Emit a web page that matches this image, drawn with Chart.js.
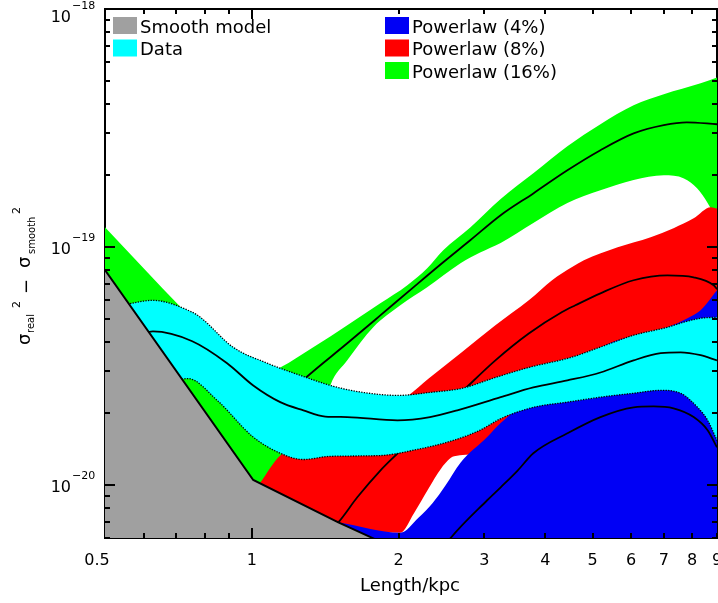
<!DOCTYPE html>
<html>
<head>
<meta charset="utf-8">
<script src="https://cdn.jsdelivr.net/npm/chart.js@4.4.1/dist/chart.umd.min.js"></script>
<style>
  html, body { margin: 0; padding: 0; background: #fff; }
  canvas { display: block; }
</style>
</head>
<body>
<canvas id="sigmaChart" width="718" height="603"></canvas>
<script>
// sigma_real^2 - sigma_smooth^2 against length scale, log-log

// axis ticks
const xTickValues = [0.6, 0.7, 0.8, 0.9, 1, 2, 3, 4, 5, 6, 7, 8, 9];
const xTickLabels = [[0.5, '0.5'], [1, '1'], [2, '2'], [3, '3'], [4, '4'], [5, '5'], [6, '6'], [7, '7'], [8, '8'], [9, '9']];
const yTickDecades = [-21, -20, -19, -18];
const yLabelDecades = [-20, -19, -18];
const legendLabels = ['Smooth model', 'Data', 'Powerlaw (4%)', 'Powerlaw (8%)', 'Powerlaw (16%)'];

// smooth model (top edge of the grey area)
const smoothModel = [[0.5, 8.0e-20], [1.007, 1.05e-20], [1.505, 6.97e-21], [1.775, 5.97e-21], [2.0, 5.3e-21]];

// data band
const dataHi = [[0.5, 5.4e-20], [0.568, 5.8e-20], [0.627, 5.97e-20], [0.748, 5.37e-20], [0.784, 5.07e-20], [0.916, 3.79e-20],
  [1.076, 3.25e-20], [1.257, 2.89e-20], [1.47, 2.6e-20], [1.69, 2.45e-20], [2.0, 2.38e-20], [2.32, 2.45e-20], [2.7, 2.55e-20],
  [3.16, 2.83e-20], [3.7, 3.12e-20], [4.5, 3.43e-20], [5.19, 3.8e-20], [6.07, 4.26e-20], [7.12, 4.6e-20], [7.69, 4.83e-20],
  [8.33, 5.02e-20], [9.0, 5.07e-20]];
const dataMid = [[0.58, 4.2e-20], [0.627, 4.42e-20], [0.755, 4.02e-20], [0.89, 3.25e-20], [1.007, 2.62e-20], [1.144, 2.23e-20],
  [1.276, 2.06e-20], [1.415, 1.94e-20], [1.57, 1.93e-20], [1.99, 1.87e-20], [2.32, 1.93e-20], [2.64, 2.06e-20], [3.24, 2.34e-20],
  [3.78, 2.57e-20], [4.44, 2.75e-20], [5.19, 2.97e-20], [6.07, 3.34e-20], [6.9, 3.58e-20], [7.58, 3.61e-20], [8.33, 3.51e-20],
  [9.0, 3.34e-20]];
const dataLo = [[0.5, 1.75e-20], [0.66, 2.6e-20], [0.74, 2.8e-20], [0.849, 2.27e-20], [1.007, 1.59e-20], [1.144, 1.36e-20],
  [1.276, 1.28e-20], [1.449, 1.32e-20], [1.835, 1.33e-20], [2.145, 1.40e-20], [2.59, 1.54e-20], [2.94, 1.7e-20], [3.24, 1.9e-20],
  [3.78, 2.12e-20], [4.44, 2.23e-20], [5.19, 2.34e-20], [6.07, 2.43e-20], [6.9, 2.5e-20], [7.58, 2.43e-20], [8.21, 2.12e-20],
  [8.61, 1.87e-20], [9.0, 1.54e-20]];

// powerlaw 4%
const pl4Hi = [[1.505, 6.97e-21], [2.017, 6.3e-21], [2.2, 7.3e-21], [2.35, 8.4e-21], [2.5, 1.0e-20], [2.68, 1.24e-20],
  [3.04, 1.59e-20], [3.24, 1.82e-20], [4.0, 2.6e-20], [4.95, 3.58e-20], [5.63, 4.06e-20], [6.28, 4.26e-20], [7.12, 4.6e-20],
  [7.83, 5.02e-20], [8.33, 5.42e-20], [9.0, 6.58e-20]];
const pl4Mid = [[2.45, 5.3e-21], [2.555, 5.97e-21], [3.04, 8.63e-21], [3.24, 9.78e-21], [3.51, 1.15e-20], [3.78, 1.36e-20],
  [4.44, 1.65e-20], [5.19, 1.93e-20], [6.07, 2.12e-20], [6.67, 2.14e-20], [7.33, 2.10e-20], [8.06, 1.93e-20], [8.61, 1.70e-20],
  [9.0, 1.44e-20]];

// powerlaw 8%
const pl8Hi = [[1.04, 1.02e-20], [1.144, 1.33e-20], [1.6, 1.85e-20], [2.095, 2.38e-20], [2.306, 2.8e-20], [2.7, 3.62e-20],
  [3.16, 4.69e-20], [3.7, 5.97e-20], [4.13, 7.25e-20], [4.54, 8.24e-20], [4.8, 8.79e-20], [5.63, 9.97e-20], [6.58, 1.10e-19],
  [7.33, 1.20e-19], [8.06, 1.32e-19], [8.74, 1.47e-19], [9.0, 1.45e-19]];
const pl8Mid = [[1.45, 6.5e-21], [1.505, 6.97e-21], [1.646, 8.88e-21], [1.835, 1.15e-20], [1.97, 1.33e-20], [2.74, 2.54e-20],
  [3.16, 3.34e-20], [3.7, 4.33e-20], [4.33, 5.33e-20], [4.61, 5.69e-20], [5.19, 6.39e-20], [6.07, 7.25e-20],
  [7.12, 7.6e-20], [8.06, 7.46e-20], [8.86, 6.91e-20], [9.0, 6.65e-20]];
const pl8Lo = [[1.04, 9.0e-21], [1.505, 6.8e-21], [2.017, 6.3e-21], [2.15, 7.6e-21], [2.3, 9.6e-21], [2.45, 1.18e-20],
  [2.6, 1.32e-20], [2.9, 1.35e-20], [3.5, 1.6e-20], [5.0, 2.2e-20], [9.0, 3.2e-20]];

// powerlaw 16%
const pl16Hi = [[0.5, 1.21e-19], [0.72, 5.5e-20], [0.9, 3.5e-20], [1.04, 2.9e-20], [1.144, 3.12e-20], [1.337, 3.79e-20],
  [1.57, 4.69e-20], [1.835, 5.8e-20], [2.085, 6.91e-20], [2.29, 8.14e-20], [2.47, 9.68e-20], [2.81, 1.21e-19], [3.24, 1.59e-19],
  [3.78, 2.04e-19], [4.44, 2.65e-19], [5.19, 3.28e-19], [6.07, 3.94e-19], [7.0, 4.38e-19], [8.33, 4.87e-19], [9.0, 5.16e-19]];
const pl16Mid = [[1.2, 2.45e-20], [1.287, 2.81e-20], [1.57, 3.94e-20], [1.835, 5.16e-20], [2.145, 6.77e-20], [2.47, 8.63e-20],
  [2.81, 1.07e-19], [3.24, 1.36e-19], [3.78, 1.68e-19], [4.44, 2.1e-19], [5.19, 2.55e-19], [6.07, 3.0e-19], [7.0, 3.25e-19],
  [7.8, 3.34e-19], [9.0, 3.28e-19]];
const pl16Lo = [[0.5, 2.0e-20], [1.0, 8.0e-21], [1.25, 8.5e-21], [1.449, 2.62e-20], [1.57, 3.34e-20], [1.775, 4.6e-20],
  [2.017, 5.69e-20], [2.29, 6.77e-20], [2.68, 8.54e-20], [2.94, 9.48e-20], [3.24, 1.04e-19], [3.78, 1.26e-19], [4.44, 1.53e-19],
  [5.19, 1.73e-19], [6.07, 1.91e-19], [7.0, 2.0e-19], [7.7, 1.94e-19], [8.2, 1.76e-19], [8.61, 1.53e-19], [9.0, 1.29e-19]];

const X_MIN = 0.5, X_MAX = 9, Y_MIN = 5.99e-21, Y_MAX = 1e-18;

const GRAY = 'rgb(160,160,160)';
const CYAN = 'rgb(0,255,255)';
const BLUE = 'rgb(0,0,245)';
const RED = 'rgb(255,0,0)';
const GREEN = 'rgb(0,255,0)';
const FONT = '"DejaVu Sans", "Liberation Sans", sans-serif';

function edge(points, extra) {
  return Object.assign({
    data: points.map(([x, y]) => ({x, y})),
    borderColor: 'rgba(0,0,0,0)',
    backgroundColor: 'rgba(0,0,0,0)',
    borderWidth: 0,
    pointRadius: 0,
    fill: false,
    cubicInterpolationMode: 'monotone'
  }, extra);
}
const midLine = {borderColor: '#000', borderWidth: 1.8};
const dotted = {borderColor: '#000', borderWidth: 1.3, borderDash: [1.3, 1.3]};

function setFont(ctx, size) {
  ctx.font = size + 'px ' + FONT;
}

// inward tick marks, tick labels, titles, legend
const axesPlugin = {
  id: 'idlAxes',
  afterDraw(chart) {
    const ctx = chart.ctx;
    const xs = chart.scales.x, ys = chart.scales.y;
    const {left, right, top, bottom} = chart.chartArea;
    ctx.save();
    ctx.fillStyle = '#000';

    xTickValues.forEach(v => {
      const px = Math.round(xs.getPixelForValue(v));
      const len = v === 1 ? 10 : 5;
      ctx.fillRect(px - 1, bottom - len, 2, len);
      ctx.fillRect(px - 1, top, 2, len);
    });
    yTickDecades.forEach(d => {
      for (let m = 1; m <= 9; m++) {
        const v = m * Math.pow(10, d);
        if (v < Y_MIN * 0.999 || v > Y_MAX * 1.001) continue;
        const py = Math.round(ys.getPixelForValue(v));
        const len = m === 1 ? 10 : 5;
        ctx.fillRect(left, py - 1, len, 2);
        ctx.fillRect(right - len, py - 1, len, 2);
      }
    });

    // x tick labels
    setFont(ctx, 16);
    ctx.textAlign = 'center';
    ctx.textBaseline = 'alphabetic';
    xTickLabels.forEach(([v, t]) => {
      let px = xs.getPixelForValue(v);
      if (v === X_MIN) px -= 8;
      ctx.fillText(t, px, 565);
    });

    // y tick labels with superscript exponent
    yLabelDecades.forEach(d => {
      let py = ys.getPixelForValue(Math.pow(10, d));
      if (d === -18) py += 6.5;
      setFont(ctx, 16);
      ctx.textAlign = 'right';
      ctx.fillText('10', 71, py + 6.5);
      setFont(ctx, 11);
      ctx.textAlign = 'left';
      ctx.fillText('\u2212' + Math.abs(d), 72, py - 6.5);
    });

    // x title
    setFont(ctx, 18);
    ctx.textAlign = 'center';
    ctx.fillText('Length/kpc', 410, 591);

    // y title, rotated
    const pieces = [
      ['\u03c3', 18, 30, 345], ['real', 10, 34, 333], ['2', 11, 20, 308],
      ['\u2212', 18, 32, 294],
      ['\u03c3', 18, 30, 268], ['smooth', 10, 35, 254], ['2', 11, 20, 214]
    ];
    ctx.textAlign = 'left';
    pieces.forEach(([t, size, bx, sy]) => {
      ctx.save();
      ctx.translate(bx, sy);
      ctx.rotate(-Math.PI / 2);
      setFont(ctx, size);
      ctx.fillText(t, 0, 0);
      ctx.restore();
    });

    // legend
    const swatches = [GRAY, CYAN, BLUE, RED, GREEN];
    const slots = [[113, 17], [113, 39.5], [385, 17], [385, 39.5], [385, 62]];
    setFont(ctx, 18);
    ctx.textAlign = 'left';
    legendLabels.forEach((label, i) => {
      const [lx, ly] = slots[i];
      ctx.fillStyle = swatches[i];
      ctx.fillRect(lx, ly, 24, 17);
      ctx.fillStyle = '#000';
      ctx.fillText(label, lx + 27, ly + 15.5);
    });
    ctx.restore();
  }
};

// four bare axes: only their border lines are shown, making the box
const baseScale = {type: 'logarithmic', bounds: 'data', ticks: {display: false},
  grid: {display: false, drawTicks: false}, border: {display: true, color: '#000', width: 2}};

new Chart(document.getElementById('sigmaChart'), {
  type: 'line',
  data: {
    datasets: [
      edge(pl16Lo, {order: 11}),
      edge(pl16Hi, {order: 10, fill: '-1', backgroundColor: GREEN}),
      edge(pl16Mid, Object.assign({order: 9}, midLine)),
      edge(pl8Lo, {order: 8}),
      edge(pl8Hi, {order: 7, fill: '-1', backgroundColor: RED}),
      edge(pl8Mid, Object.assign({order: 6}, midLine)),
      edge(pl4Hi, {order: 5, fill: 'start', backgroundColor: BLUE}),
      edge(pl4Mid, Object.assign({order: 4}, midLine)),
      edge(dataLo, Object.assign({order: 2}, dotted)),
      edge(dataHi, Object.assign({order: 3, fill: '-1', backgroundColor: CYAN}, dotted)),
      edge(dataMid, Object.assign({order: 1}, midLine)),
      edge(smoothModel, {order: 0, fill: 'start', backgroundColor: GRAY, borderColor: '#000', borderWidth: 2,
        cubicInterpolationMode: 'default', tension: 0})
    ]
  },
  options: {
    responsive: false,
    animation: false,
    devicePixelRatio: 1,
    layout: {padding: {left: 105, top: 9, right: 1, bottom: 65}},
    scales: {
      x: Object.assign({}, baseScale, {position: 'bottom', min: X_MIN, max: X_MAX}),
      x2: Object.assign({}, baseScale, {position: 'top', min: X_MIN, max: X_MAX}),
      y: Object.assign({}, baseScale, {position: 'left', min: Y_MIN, max: Y_MAX}),
      y2: Object.assign({}, baseScale, {position: 'right', min: Y_MIN, max: Y_MAX})
    },
    plugins: {
      legend: {display: false},
      tooltip: {enabled: false}
    },
    events: []
  },
  plugins: [axesPlugin]
});
</script>
</body>
</html>
